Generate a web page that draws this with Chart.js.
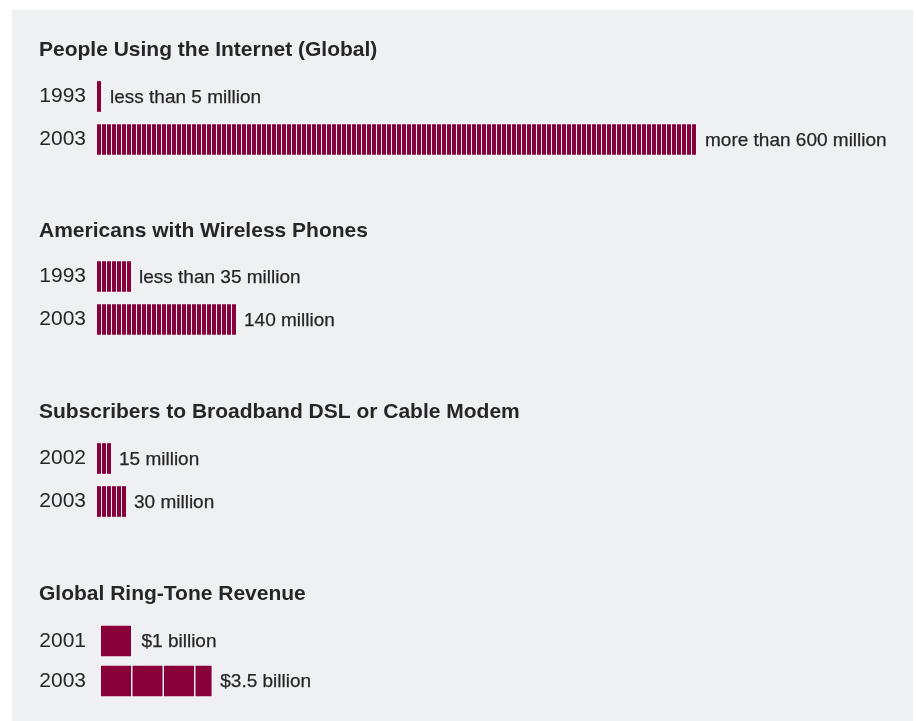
<!DOCTYPE html>
<html>
<head>
<meta charset="utf-8">
<script src="https://cdn.jsdelivr.net/npm/chart.js@4.4.1/dist/chart.umd.min.js"></script>
<style>
  html, body { margin: 0; padding: 0; background: #fff; }
  #panel { position: absolute; left: 12px; top: 10px; width: 901px; height: 720px; background: #eff0f2; }
  canvas { position: absolute; left: 12px; }
</style>
</head>
<body>
<div id="panel"></div>
<canvas id="c1" width="904" height="154" style="top:10px"></canvas>
<canvas id="c2" width="904" height="154" style="top:191px"></canvas>
<canvas id="c3" width="904" height="154" style="top:372px"></canvas>
<canvas id="c4" width="904" height="154" style="top:554px"></canvas>
<script>
'use strict';

// chart data
const internetTitle = 'People Using the Internet (Global)';
const internetYears = ['1993', '2003'];
const internetValues = [5, 600];
const internetLabels = ['less than 5 million', 'more than 600 million'];

const wirelessTitle = 'Americans with Wireless Phones';
const wirelessYears = ['1993', '2003'];
const wirelessValues = [35, 140];
const wirelessLabels = ['less than 35 million', '140 million'];

const broadbandTitle = 'Subscribers to Broadband DSL or Cable Modem';
const broadbandYears = ['2002', '2003'];
const broadbandValues = [15, 30];
const broadbandLabels = ['15 million', '30 million'];

const ringtoneTitle = 'Global Ring-Tone Revenue';
const ringtoneYears = ['2001', '2003'];
const ringtoneValues = [1, 3.5];
const ringtoneLabels = ['$1 billion', '$3.5 billion'];

const barColor = '#87003a';
const bgColor = '#eff0f2';
const textColor = '#262626';
const FONT = '"Liberation Sans", Arial, sans-serif';

const CANVAS_W = 904;
const CANVAS_H = 154;
const PAD_L = 27;
const PAD_R = 19;

// light gaps between the unit blocks of each bar
const segmentPlugin = {
  id: 'segments',
  afterDatasetsDraw(chart, args, opts) {
    var ctx = chart.ctx;
    var xScale = chart.scales.x;
    var values = chart.data.datasets[0].data;
    ctx.save();
    ctx.fillStyle = bgColor;
    chart.getDatasetMeta(0).data.forEach(function(bar, i) {
      var p = bar.getProps(['x', 'y', 'height'], true);
      for (var k = opts.unit; k <= values[i] + 1e-9; k += opts.unit) {
        var px = xScale.getPixelForValue(k);
        var last = Math.abs(k - values[i]) < 1e-9;
        ctx.fillRect(px - opts.gap, p.y - p.height / 2 - 1, opts.gap + (last ? 1 : 0), p.height + 2);
      }
    });
    ctx.restore();
  }
};

// text to the right of each bar
const valueLabelPlugin = {
  id: 'valueLabels',
  afterDatasetsDraw(chart, args, opts) {
    var ctx = chart.ctx;
    ctx.save();
    ctx.font = '19px ' + FONT;
    ctx.fillStyle = textColor;
    ctx.strokeStyle = textColor;
    ctx.lineWidth = 0.25;
    ctx.textBaseline = 'middle';
    ctx.textAlign = 'left';
    chart.getDatasetMeta(0).data.forEach(function(bar, i) {
      var p = bar.getProps(['x', 'y'], true);
      ctx.fillText(opts.labels[i], p.x + opts.offset, p.y + 1);
      ctx.strokeText(opts.labels[i], p.x + opts.offset, p.y + 1);
    });
    ctx.restore();
  }
};

function makeChart(id, title, years, values, labels, cfg) {
  var axisW = cfg.axisW;
  var xMax = (CANVAS_W - PAD_L - axisW - PAD_R) / cfg.pxPerUnit;
  var ctx = document.getElementById(id).getContext('2d');
  return new Chart(ctx, {
    type: 'bar',
    data: {
      labels: years,
      datasets: [{
        data: values,
        backgroundColor: barColor,
        borderWidth: 0,
        barThickness: 30
      }]
    },
    plugins: [segmentPlugin, valueLabelPlugin],
    options: {
      indexAxis: 'y',
      responsive: false,
      animation: false,
      layout: { padding: { left: PAD_L, right: PAD_R, top: 0, bottom: CANVAS_H - 64 - cfg.titleExtra - cfg.areaH } },
      scales: {
        x: { display: false, min: 0, max: xMax },
        y: {
          grid: { display: false, drawTicks: false },
          border: { display: false },
          ticks: { color: textColor, padding: cfg.tickPad, font: { family: FONT, size: 21 } },
          afterFit: function(scale) {
            scale.width = axisW;
            scale.paddingTop = 0;
            scale.paddingBottom = 0;
          }
        }
      },
      plugins: {
        legend: { display: false },
        tooltip: { enabled: false },
        title: {
          display: true,
          text: title,
          align: 'start',
          color: textColor,
          font: { family: FONT, size: 21, weight: 'bold', lineHeight: 1.2 },
          padding: { top: 27.4, bottom: 11.4 + cfg.titleExtra }
        },
        segments: { unit: cfg.unit, gap: cfg.gap },
        valueLabels: { labels: labels, offset: cfg.labelOffset }
      }
    }
  });
}

makeChart('c1', internetTitle, internetYears, internetValues, internetLabels,
  { axisW: 58, tickPad: 11, pxPerUnit: 1, unit: 5, gap: 1, areaH: 86, titleExtra: 1, labelOffset: 8 });
makeChart('c2', wirelessTitle, wirelessYears, wirelessValues, wirelessLabels,
  { axisW: 58, tickPad: 11, pxPerUnit: 1, unit: 5, gap: 1, areaH: 86, titleExtra: 0, labelOffset: 7 });
makeChart('c3', broadbandTitle, broadbandYears, broadbandValues, broadbandLabels,
  { axisW: 58, tickPad: 11, pxPerUnit: 1, unit: 5, gap: 1, areaH: 86, titleExtra: 1, labelOffset: 7 });
makeChart('c4', ringtoneTitle, ringtoneYears, ringtoneValues, ringtoneLabels,
  { axisW: 62, tickPad: 15, pxPerUnit: 31.5, unit: 1, gap: 1.5, areaH: 80, titleExtra: 3, labelOffset: 9 });
</script>
</body>
</html>
